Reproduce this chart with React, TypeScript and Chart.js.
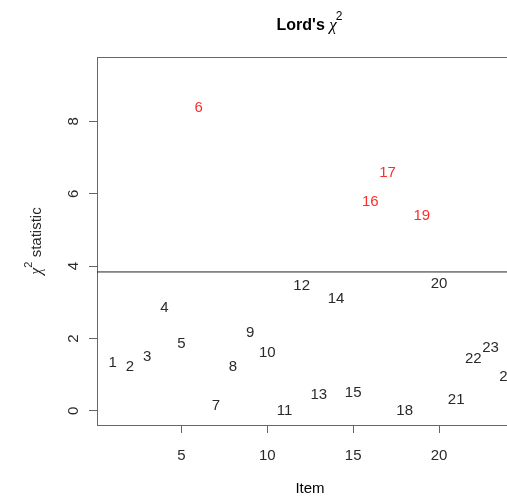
import React, { useEffect, useRef } from 'react';
import { Chart, registerables } from 'chart.js';

Chart.register(...registerables);

// ---- data ----
const items = [1, 2, 3, 4, 5, 6, 7, 8, 9, 10, 11, 12, 13, 14, 15, 16, 17, 18, 19, 20, 21, 22, 23, 24];
const chiSquare = [1.34, 1.23, 1.49, 2.86, 1.85, 8.37, 0.15, 1.21, 2.17, 1.6, 0.0, 3.46, 0.43, 3.09, 0.51, 5.79, 6.58, 0.0, 5.4, 3.51, 0.3, 1.45, 1.73, 0.95];
const criticalValue = 3.84;
const xTicks = [5, 10, 15, 20];
const yTicks = [0, 2, 4, 6, 8];
const xRange = [0.08, 23.96];
const yRange = [-0.39, 9.78];

const FONT = '"Liberation Sans", Arial, sans-serif';
const AXIS = '#666666';
const TEXT = '#2a2a2a';
const RED = '#ff2b2b';

const decorPlugin = {
  id: 'decor',
  afterDraw(chart: any) {
    const ctx = chart.ctx as CanvasRenderingContext2D;
    const area = chart.chartArea;
    const ys = chart.scales.y;
    ctx.save();
    // top box line
    ctx.strokeStyle = AXIS;
    ctx.lineWidth = 1;
    ctx.beginPath();
    ctx.moveTo(area.left, Math.round(area.top) + 0.5);
    ctx.lineTo(area.right, Math.round(area.top) + 0.5);
    ctx.stroke();

    // y tick labels (rotated, R style)
    ctx.fillStyle = TEXT;
    ctx.font = '15px ' + FONT;
    ctx.textAlign = 'center';
    ctx.textBaseline = 'alphabetic';
    ys.ticks.forEach((t: any) => {
      const py = ys.getPixelForValue(t.value);
      ctx.save();
      ctx.translate(77.5, py);
      ctx.rotate(-Math.PI / 2);
      ctx.fillText(String(t.value), 0, 0);
      ctx.restore();
    });

    // title
    const cx = 310;
    const ty = 30;
    ctx.textAlign = 'left';
    const f1 = 'bold 16px ' + FONT;
    const f2 = 'italic 17px "Liberation Serif", serif';
    const f3 = '12px ' + FONT;
    ctx.font = f1; const w1 = ctx.measureText("Lord's ").width;
    ctx.font = f2; const w2 = ctx.measureText('χ').width;
    ctx.font = f3; const w3 = ctx.measureText('2').width;
    let x0 = cx - (w1 + w2 + w3) / 2;
    ctx.fillStyle = '#000';
    ctx.font = f1; ctx.fillText("Lord's ", x0, ty); x0 += w1;
    ctx.font = f2; ctx.fillText('χ', x0, ty); x0 += w2;
    ctx.font = f3; ctx.fillText('2', x0 - 1, ty - 10);

    // y axis title
    const cy = (area.top + area.bottom) / 2;
    ctx.save();
    ctx.translate(41, cy);
    ctx.rotate(-Math.PI / 2);
    const g1 = 'italic 16px "Liberation Serif", serif';
    const g2 = '11px ' + FONT;
    const g3 = '15px ' + FONT;
    ctx.font = g1; const v1 = ctx.measureText('χ').width;
    ctx.font = g2; const v2 = ctx.measureText('2').width;
    ctx.font = g3; const v3 = ctx.measureText(' statistic').width;
    let s = -(v1 + v2 + v3) / 2;
    ctx.fillStyle = TEXT;
    ctx.font = g1; ctx.fillText('χ', s, 0); s += v1;
    ctx.font = g2; ctx.fillText('2', s, -9); s += v2;
    ctx.font = g3; ctx.fillText(' statistic', s, 0);
    ctx.restore();

    // x axis title
    ctx.font = '15px ' + FONT;
    ctx.textAlign = 'center';
    ctx.fillText('Item', cx, 493);
    ctx.restore();
  },
};

const labelPlugin = {
  id: 'itemLabels',
  afterDatasetsDraw(chart: any) {
    const meta = chart.getDatasetMeta(1);
    const ctx = chart.ctx as CanvasRenderingContext2D;
    ctx.save();
    ctx.font = '15px ' + FONT;
    ctx.textAlign = 'center';
    ctx.textBaseline = 'middle';
    meta.data.forEach((pt: any, i: number) => {
      ctx.fillStyle = chiSquare[i] > criticalValue ? RED : TEXT;
      ctx.fillText(String(items[i]), pt.x, pt.y);
    });
    ctx.restore();
  },
};

export default function App() {
  const ref = useRef<HTMLCanvasElement | null>(null);
  useEffect(() => {
    document.body.style.margin = '0';
    const chart = new Chart(ref.current!, {
      type: 'scatter',
      data: {
        datasets: [
          {
            type: 'line',
            data: [
              { x: xRange[0], y: criticalValue },
              { x: xRange[1], y: criticalValue },
            ],
            borderColor: '#222',
            borderWidth: 1,
            pointRadius: 0,
            fill: false,
          } as any,
          {
            data: items.map((it, i) => ({ x: it, y: chiSquare[i] })),
            pointRadius: 0,
            backgroundColor: 'transparent',
            borderColor: 'transparent',
          },
        ],
      },
      options: {
        animation: false,
        responsive: true,
        maintainAspectRatio: false,
        layout: { padding: { top: 57, right: 0, left: 0, bottom: 0 } },
        plugins: { legend: { display: false }, tooltip: { enabled: false }, title: { display: false } },
        scales: {
          x: {
            type: 'linear',
            min: xRange[0],
            max: xRange[1],
            afterFit: (s: any) => { s.height = 78; },
            afterBuildTicks: (s: any) => { s.ticks = xTicks.map((v) => ({ value: v })); },
            ticks: { color: TEXT, font: { size: 15, family: FONT }, padding: 14, maxRotation: 0, includeBounds: false },
            grid: { display: true, drawOnChartArea: false, drawTicks: true, tickLength: 8, color: AXIS },
            border: { display: true, color: AXIS, width: 1 },
          },
          y: {
            type: 'linear',
            min: yRange[0],
            max: yRange[1],
            afterFit: (s: any) => { s.width = 97; },
            afterBuildTicks: (s: any) => { s.ticks = yTicks.map((v) => ({ value: v })); },
            ticks: { display: false, includeBounds: false },
            grid: { display: true, drawOnChartArea: false, drawTicks: true, tickLength: 8, color: AXIS },
            border: { display: true, color: AXIS, width: 1 },
          },
        },
      },
      plugins: [labelPlugin, decorPlugin],
    });
    return () => chart.destroy();
  }, []);
  return (
    <div style={{ position: 'fixed', left: 0, top: 0, width: 507, height: 503 }}>
      <canvas ref={ref} />
    </div>
  );
}
